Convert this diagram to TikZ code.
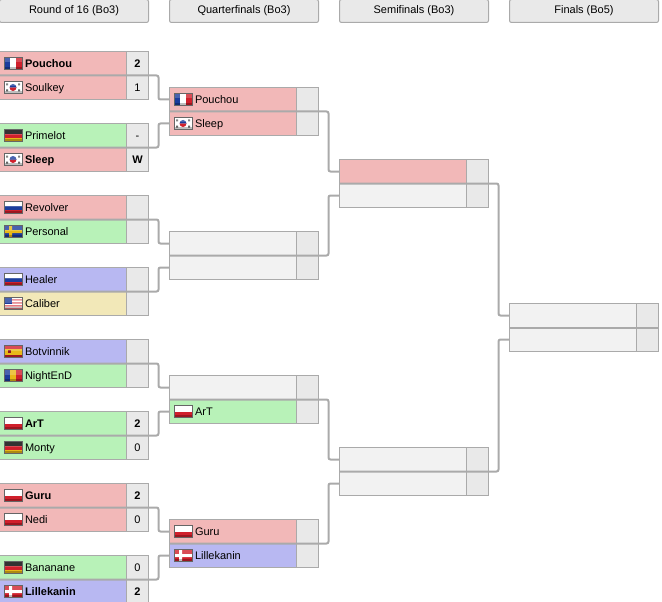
\documentclass[tikz,border=0pt]{standalone}
\usepackage{fontspec}
\setmainfont{Liberation Sans}
\usetikzlibrary{positioning,calc}

\definecolor{edgegray}{HTML}{AAAAAA}
\definecolor{redcell}{HTML}{F2B8B8}
\definecolor{greencell}{HTML}{B8F2B8}
\definecolor{bluecell}{HTML}{B8B8F2}
\definecolor{yellowcell}{HTML}{F2E8B8}
\definecolor{plaincell}{HTML}{F2F2F2}
\definecolor{scorecell}{HTML}{E9E9E9}
\definecolor{flagred}{HTML}{D0202C}
\definecolor{flagblue}{HTML}{1C3C9C}
\definecolor{flaggold}{HTML}{E8B818}

\tikzset{
  cellbase/.style={draw=edgegray,line width=1pt,inner xsep=0pt,inner ysep=0pt,
    outer sep=0pt,minimum height=24pt,text height=8pt,text depth=0pt,font=\fontsize{11}{13}\selectfont},
  namebox/.style={cellbase,text width=127pt,anchor=north west,execute at begin node={\hspace*{25.5pt}}},
  pointbox/.style={cellbase,fill=scorecell,minimum width=22pt,align=center},
  headbox/.style={cellbase,fill=scorecell,rounded corners=2pt,minimum width=149pt,minimum height=23pt,anchor=north west,
    text height=8pt,text depth=2pt},
  wire/.style={draw=edgegray,line width=2pt,rounded corners=2pt}
}

% Flags, 18 wide and 12 high, origin at the middle of the left side
\newcommand{\flagFR}{\fill[flagblue] (0,-6) rectangle (6,6); \fill[white] (6,-6) rectangle (12,6); \fill[flagred] (12,-6) rectangle (18,6);}
\newcommand{\flagKR}{\fill[white] (0,-6) rectangle (18,6); \fill[flagred] (5.5,0) arc (180:0:3.5) -- cycle; \fill[flagblue] (5.5,0) arc (180:360:3.5) -- cycle;
  \fill[black!60] (2,-4) rectangle (4,-2) (14,-4) rectangle (16,-2) (2,2) rectangle (4,4) (14,2) rectangle (16,4);}
\newcommand{\flagDE}{\fill[black] (0,-6) rectangle (18,-2); \fill[flagred] (0,-2) rectangle (18,2); \fill[flaggold] (0,2) rectangle (18,6);}
\newcommand{\flagRU}{\fill[white] (0,-6) rectangle (18,-2); \fill[flagblue] (0,-2) rectangle (18,2); \fill[flagred] (0,2) rectangle (18,6);}
\newcommand{\flagSE}{\fill[flagblue] (0,-6) rectangle (18,6); \fill[flaggold] (5,-6) rectangle (8,6) (0,-1.5) rectangle (18,1.5);}
\newcommand{\flagUS}{\fill[white] (0,-6) rectangle (18,6); \fill[flagred!60] (0,-4.5) rectangle (18,-3) (0,-1.5) rectangle (18,0) (0,1.5) rectangle (18,3) (0,4.5) rectangle (18,6);
  \fill[flagblue] (0,-6) rectangle (8,0);}
\newcommand{\flagES}{\fill[flagred] (0,-6) rectangle (18,6); \fill[flaggold] (0,-3) rectangle (18,3); \fill[flagred!70!black] (4,-1.5) rectangle (7,1.5);}
\newcommand{\flagRO}{\fill[flagblue] (0,-6) rectangle (6,6); \fill[flaggold] (6,-6) rectangle (12,6); \fill[flagred] (12,-6) rectangle (18,6);}
\newcommand{\flagPL}{\fill[white] (0,-6) rectangle (18,0); \fill[flagred] (0,0) rectangle (18,6);}
\newcommand{\flagDK}{\fill[flagred] (0,-6) rectangle (18,6); \fill[white] (5,-6) rectangle (8,6) (0,-1.5) rectangle (18,1.5);}

% #1 name, #2 top left corner, #3 fill, #4 flag, #5 text, #6 score
\newcommand{\entrant}[6]{
  \node[namebox,fill=#3] (#1) at (#2) {#5};
  \node[pointbox,right=0pt of #1] (#1s) {#6};
  \begin{scope}[shift={($(#1.west)+(4.5,0)$)}]
    \csname flag#4\endcsname
    \fill[white,opacity=.2] (0,-6) rectangle (18,-1);
    \fill[black,opacity=.25] (0,3.5) rectangle (18,6);
    \draw[black!60,line width=.6pt] (0,-6) rectangle (18,6);
  \end{scope}
}
% same row with nobody in it yet
\newcommand{\blankrow}[3]{
  \node[namebox,fill=#3] (#1) at (#2) {};
  \node[pointbox,right=0pt of #1] (#1s) {};
}
% divider of a match, then on to the row of the next round
\newcommand{\wirerow}[2]{
  \draw[wire] (#1.south west) -- (#1s.south east) -- +(10,0) |- (#2.west);
}

\begin{document}
\begin{tikzpicture}[x=1pt,y=-1pt]
  \useasboundingbox (0,0) rectangle (662,602);
  % Round headers
  \node[headbox] (headro) at (-0.5,-0.5) {Round of 16 (Bo3)};
  \node[headbox] (headqf) at (169.5,-0.5) {Quarterfinals (Bo3)};
  \node[headbox] (headsf) at (339.5,-0.5) {Semifinals (Bo3)};
  \node[headbox] (headfi) at (509.5,-0.5) {Finals (Bo5)};
  % Round of 16
  \entrant{ro1a}{-0.5,51.5}{redcell}{FR}{\textbf{Pouchou}}{\textbf{2}}
  \entrant{ro1b}{-0.5,75.5}{redcell}{KR}{Soulkey}{1}
  \entrant{ro2a}{-0.5,123.5}{greencell}{DE}{Primelot}{-}
  \entrant{ro2b}{-0.5,147.5}{redcell}{KR}{\textbf{Sleep}}{\textbf{W}}
  \entrant{ro3a}{-0.5,195.5}{redcell}{RU}{Revolver}{}
  \entrant{ro3b}{-0.5,219.5}{greencell}{SE}{Personal}{}
  \entrant{ro4a}{-0.5,267.5}{bluecell}{RU}{Healer}{}
  \entrant{ro4b}{-0.5,291.5}{yellowcell}{US}{Caliber}{}
  \entrant{ro5a}{-0.5,339.5}{bluecell}{ES}{Botvinnik}{}
  \entrant{ro5b}{-0.5,363.5}{greencell}{RO}{NightEnD}{}
  \entrant{ro6a}{-0.5,411.5}{greencell}{PL}{\textbf{ArT}}{\textbf{2}}
  \entrant{ro6b}{-0.5,435.5}{greencell}{DE}{Monty}{0}
  \entrant{ro7a}{-0.5,483.5}{redcell}{PL}{\textbf{Guru}}{\textbf{2}}
  \entrant{ro7b}{-0.5,507.5}{redcell}{PL}{Nedi}{0}
  \entrant{ro8a}{-0.5,555.5}{greencell}{DE}{Bananane}{0}
  \entrant{ro8b}{-0.5,579.5}{bluecell}{DK}{\textbf{Lillekanin}}{\textbf{2}}
  % Quarterfinals
  \entrant{qf1a}{169.5,87.5}{redcell}{FR}{Pouchou}{}
  \entrant{qf1b}{169.5,111.5}{redcell}{KR}{Sleep}{}
  \blankrow{qf2a}{169.5,231.5}{plaincell}
  \blankrow{qf2b}{169.5,255.5}{plaincell}
  \blankrow{qf3a}{169.5,375.5}{plaincell}
  \entrant{qf3b}{169.5,399.5}{greencell}{PL}{ArT}{}
  \entrant{qf4a}{169.5,519.5}{redcell}{PL}{Guru}{}
  \entrant{qf4b}{169.5,543.5}{bluecell}{DK}{Lillekanin}{}
  % Semifinals
  \blankrow{sf1a}{339.5,159.5}{redcell}
  \blankrow{sf1b}{339.5,183.5}{plaincell}
  \blankrow{sf2a}{339.5,447.5}{plaincell}
  \blankrow{sf2b}{339.5,471.5}{plaincell}
  % Finals
  \blankrow{fina}{509.5,303.5}{plaincell}
  \blankrow{finb}{509.5,327.5}{plaincell}
  % Connectors
  \wirerow{ro1a}{qf1a}
  \wirerow{ro2a}{qf1b}
  \wirerow{ro3a}{qf2a}
  \wirerow{ro4a}{qf2b}
  \wirerow{ro5a}{qf3a}
  \wirerow{ro6a}{qf3b}
  \wirerow{ro7a}{qf4a}
  \wirerow{ro8a}{qf4b}
  \wirerow{qf1a}{sf1a}
  \wirerow{qf2a}{sf1b}
  \wirerow{qf3a}{sf2a}
  \wirerow{qf4a}{sf2b}
  \wirerow{sf1a}{fina}
  \wirerow{sf2a}{finb}
  \draw[wire] (fina.south west) -- (finas.south east);
\end{tikzpicture}
\end{document}
